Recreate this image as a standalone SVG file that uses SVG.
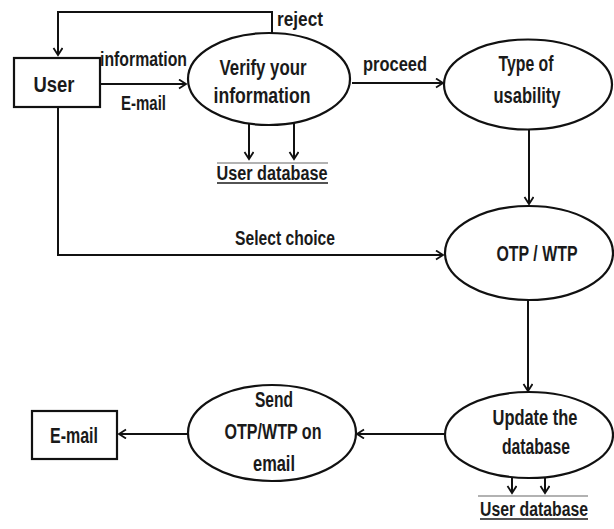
<svg xmlns="http://www.w3.org/2000/svg" width="614" height="529" viewBox="0 0 614 529">
  <defs>
    <marker id="arrow" markerUnits="userSpaceOnUse" markerWidth="12" markerHeight="12" refX="8" refY="5" orient="auto">
      <path d="M1,0.5 L8,5 L1,9.5" fill="none" stroke="#111" stroke-width="1.8"/>
    </marker>
  </defs>
  <style>
    .shape { fill: #fff; stroke: #111; stroke-width: 2.2; }
    .edge { fill: none; stroke: #111; stroke-width: 2; }
    .store { stroke: #999; stroke-width: 1.5; }
    .uline { stroke: #1a1a1a; stroke-width: 1.5; }
    text { font-family: "Liberation Sans", Arial, sans-serif; font-weight: bold; fill: #1a1a1a; }
    .node { font-size: 22px; text-anchor: middle; }
    .lbl { font-size: 21px; }
    .db { font-size: 20px; text-anchor: middle; }
  </style>

  <rect width="614" height="529" fill="#fff"/>

  <!-- connectors -->
  <g id="connectors">
    <path class="edge" d="M272,33 V12 H58 V55" marker-end="url(#arrow)"/>
    <path class="edge" d="M100,84 H186" marker-end="url(#arrow)"/>
    <path class="edge" d="M249,123 V159" marker-end="url(#arrow)"/>
    <path class="edge" d="M294,123 V159" marker-end="url(#arrow)"/>
    <path class="edge" d="M352,83 H443" marker-end="url(#arrow)"/>
    <path class="edge" d="M529,129 V204" marker-end="url(#arrow)"/>
    <path class="edge" d="M58,107 V255 H443" marker-end="url(#arrow)"/>
    <path class="edge" d="M528,300 V391" marker-end="url(#arrow)"/>
    <path class="edge" d="M445,434 H357" marker-end="url(#arrow)"/>
    <path class="edge" d="M188,434 H119" marker-end="url(#arrow)"/>
    <path class="edge" d="M512,476 V493" marker-end="url(#arrow)"/>
    <path class="edge" d="M545,476 V493" marker-end="url(#arrow)"/>

    <text class="lbl" x="277" y="26" textLength="46" lengthAdjust="spacingAndGlyphs">reject</text>
    <text class="lbl" x="100" y="66" textLength="87" lengthAdjust="spacingAndGlyphs">information</text>
    <text class="lbl" x="121" y="110" textLength="45" lengthAdjust="spacingAndGlyphs">E-mail</text>
    <text class="lbl" x="363" y="71" textLength="64" lengthAdjust="spacingAndGlyphs">proceed</text>
    <text class="lbl" x="235" y="245" textLength="100" lengthAdjust="spacingAndGlyphs">Select choice</text>
  </g>

  <!-- external entity: user -->
  <g id="user">
    <rect class="shape" x="14" y="58" width="86" height="49"/>
    <text class="node" x="54" y="92" textLength="41" lengthAdjust="spacingAndGlyphs">User</text>
  </g>

  <!-- process: verify -->
  <g id="verify">
    <ellipse class="shape" cx="269" cy="79" rx="81" ry="46"/>
    <text class="node" x="263" y="75" textLength="87" lengthAdjust="spacingAndGlyphs">Verify your</text>
    <text class="node" x="262" y="103" textLength="97" lengthAdjust="spacingAndGlyphs">information</text>
  </g>

  <!-- data store under verify -->
  <g id="store-top">
    <line class="store" x1="217" y1="163" x2="328" y2="163"/>
    <text class="db" x="272" y="180" textLength="111" lengthAdjust="spacingAndGlyphs">User database</text>
    <line class="uline" x1="217" y1="183" x2="328" y2="183"/>
  </g>

  <!-- process: type of usability -->
  <g id="usability">
    <ellipse class="shape" cx="528" cy="84.5" rx="84" ry="45"/>
    <text class="node" x="526" y="71" textLength="55" lengthAdjust="spacingAndGlyphs">Type of</text>
    <text class="node" x="527" y="103" textLength="67" lengthAdjust="spacingAndGlyphs">usability</text>
  </g>

  <!-- process: OTP / WTP -->
  <g id="otp">
    <ellipse class="shape" cx="529" cy="253" rx="84" ry="47"/>
    <text class="node" x="537" y="261" textLength="81" lengthAdjust="spacingAndGlyphs">OTP / WTP</text>
  </g>

  <!-- process: update -->
  <g id="update">
    <ellipse class="shape" cx="529" cy="435" rx="84" ry="43"/>
    <text class="node" x="535" y="425" textLength="85" lengthAdjust="spacingAndGlyphs">Update the</text>
    <text class="node" x="536" y="454" textLength="68" lengthAdjust="spacingAndGlyphs">database</text>
  </g>

  <!-- data store under update -->
  <g id="store-bottom">
    <line class="store" x1="478" y1="496" x2="588" y2="496"/>
    <text class="db" x="534" y="516" textLength="108" lengthAdjust="spacingAndGlyphs">User database</text>
    <line class="uline" x1="480" y1="519" x2="588" y2="519"/>
  </g>

  <!-- process: send -->
  <g id="send">
    <ellipse class="shape" cx="272" cy="433" rx="84" ry="48"/>
    <text class="node" x="274" y="407" textLength="38" lengthAdjust="spacingAndGlyphs">Send</text>
    <text class="node" x="273" y="439" textLength="97" lengthAdjust="spacingAndGlyphs">OTP/WTP on</text>
    <text class="node" x="274" y="471" textLength="42" lengthAdjust="spacingAndGlyphs">email</text>
  </g>

  <!-- external entity: e-mail -->
  <g id="email">
    <rect class="shape" x="32" y="411" width="85" height="48"/>
    <text class="node" x="74" y="443" textLength="48" lengthAdjust="spacingAndGlyphs">E-mail</text>
  </g>
</svg>
